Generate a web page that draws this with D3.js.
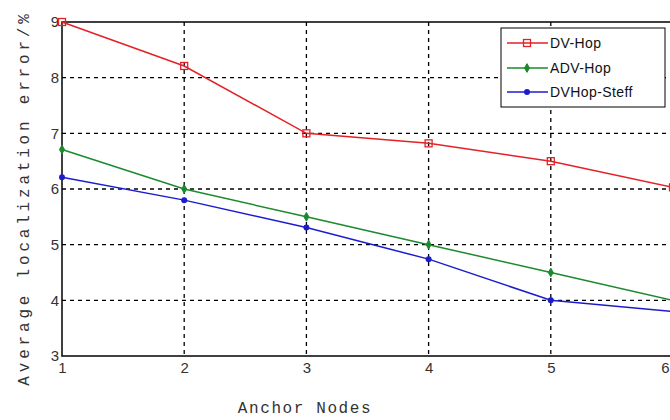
<!DOCTYPE html>
<html><head><meta charset="utf-8">
<script src="https://cdn.jsdelivr.net/npm/d3@7"></script>
<style>body{margin:0;background:#fff;}svg{display:block;}</style>
</head><body>
<svg id="c" width="670" height="420"></svg>
<script>
const anchorNodes = [1, 2, 3, 4, 5, 6];
const dvHop = [9.0, 8.21, 7.0, 6.82, 6.5, 6.03];
const advHop = [6.71, 6.0, 5.5, 5.0, 4.5, 4.0];
const dvHopSteff = [6.21, 5.8, 5.31, 4.74, 4.0, 3.8];
const yTicks = [3, 4, 5, 6, 7, 8, 9];
const seriesNames = ["DV-Hop", "ADV-Hop", "DVHop-Steff"];
const seriesColors = ["#e32227", "#1b8a2e", "#1c1ccf"];

const svg = d3.select("#c");
const x = d3.scaleLinear().domain([1, 6]).range([62, 673]);
const y = d3.scaleLinear().domain([3, 9]).range([356, 22]);

// grid
const g = svg.append("g");
g.selectAll(".vg").data(anchorNodes.slice(1, 5)).enter().append("line")
  .attr("x1", d => x(d)).attr("x2", d => x(d)).attr("y1", y(9)).attr("y2", y(3))
  .attr("stroke", "#000").attr("stroke-width", 1.3).attr("stroke-dasharray", "4,4");
g.selectAll(".hg").data(yTicks.slice(1, 6)).enter().append("line")
  .attr("x1", x(1)).attr("x2", x(6)).attr("y1", d => y(d)).attr("y2", d => y(d))
  .attr("stroke", "#000").attr("stroke-width", 1.3).attr("stroke-dasharray", "4,4");

// frame
svg.append("rect").attr("x", x(1)).attr("y", y(9)).attr("width", x(6) - x(1)).attr("height", y(3) - y(9))
  .attr("fill", "none").attr("stroke", "#000").attr("stroke-width", 1.5);

// axes (labels only)
const xAxis = svg.append("g").attr("transform", `translate(0,${y(3)})`)
  .call(d3.axisBottom(x).tickValues(anchorNodes).tickFormat(d3.format("d")).tickSize(0).tickPadding(6));
xAxis.select(".domain").remove();
xAxis.selectAll("text").attr("font-family", "Liberation Sans, Arial, sans-serif").attr("font-size", 15).attr("fill", "#333");
xAxis.selectAll(".tick").filter(d => d === 6).select("text").attr("text-anchor", "end").attr("dx", -4);
const yAxis = svg.append("g").attr("transform", `translate(${x(1)},0)`)
  .call(d3.axisLeft(y).tickValues(yTicks).tickFormat(d3.format("d")).tickSize(0).tickPadding(3));
yAxis.select(".domain").remove();
yAxis.selectAll("text").attr("font-family", "Liberation Sans, Arial, sans-serif").attr("font-size", 15).attr("fill", "#333");

// lines
const allSeries = [dvHop, advHop, dvHopSteff];
const line = d3.line().x((d, i) => x(anchorNodes[i])).y(d => y(d));
allSeries.forEach((s, k) => {
  svg.append("path").datum(s).attr("d", line).attr("fill", "none")
    .attr("stroke", seriesColors[k]).attr("stroke-width", 1.5);
});

function marker(sel, k, cx, cy) {
  if (k === 0) {
    sel.append("rect").attr("x", cx - 3.5).attr("y", cy - 3.5).attr("width", 7).attr("height", 7)
      .attr("fill", "none").attr("stroke", seriesColors[0]).attr("stroke-width", 1.3);
  } else if (k === 1) {
    sel.append("path").attr("d", d3.symbol().type(d3.symbolDiamond).size(22)()).attr("transform", `translate(${cx},${cy})`)
      .attr("fill", seriesColors[1]).attr("stroke", seriesColors[1]).attr("stroke-width", 1);
  } else {
    sel.append("circle").attr("cx", cx).attr("cy", cy).attr("r", 3).attr("fill", seriesColors[2]);
  }
}
allSeries.forEach((s, k) => {
  const mg = svg.append("g");
  s.forEach((v, i) => marker(mg, k, x(anchorNodes[i]), y(v)));
});

// legend
const lg = svg.append("g");
lg.append("rect").attr("x", 501).attr("y", 28).attr("width", 164).attr("height", 79)
  .attr("fill", "#fff").attr("stroke", "#000").attr("stroke-width", 1);
const rows = [43, 68, 92];
seriesNames.forEach((n, k) => {
  lg.append("line").attr("x1", 507).attr("x2", 548).attr("y1", rows[k]).attr("y2", rows[k])
    .attr("stroke", seriesColors[k]).attr("stroke-width", 1.5);
  marker(lg, k, 527, rows[k]);
  lg.append("text").attr("x", 550).attr("y", rows[k] + 5).text(n)
    .attr("font-family", "Liberation Sans, Arial, sans-serif").attr("font-size", 14).attr("letter-spacing", 0.4).attr("fill", "#111");
});

// axis titles
svg.append("text").attr("x", 305).attr("y", 413).attr("text-anchor", "middle").text("Anchor Nodes")
  .attr("font-family", "Liberation Mono, monospace").attr("font-size", 16).attr("letter-spacing", 1.6).attr("fill", "#333");
svg.append("text").attr("transform", "translate(29,198) rotate(-90)").attr("text-anchor", "middle")
  .text("Average localization error/%")
  .attr("font-family", "Liberation Mono, monospace").attr("font-size", 16).attr("letter-spacing", 3.8).attr("fill", "#333");
</script>
</body></html>
